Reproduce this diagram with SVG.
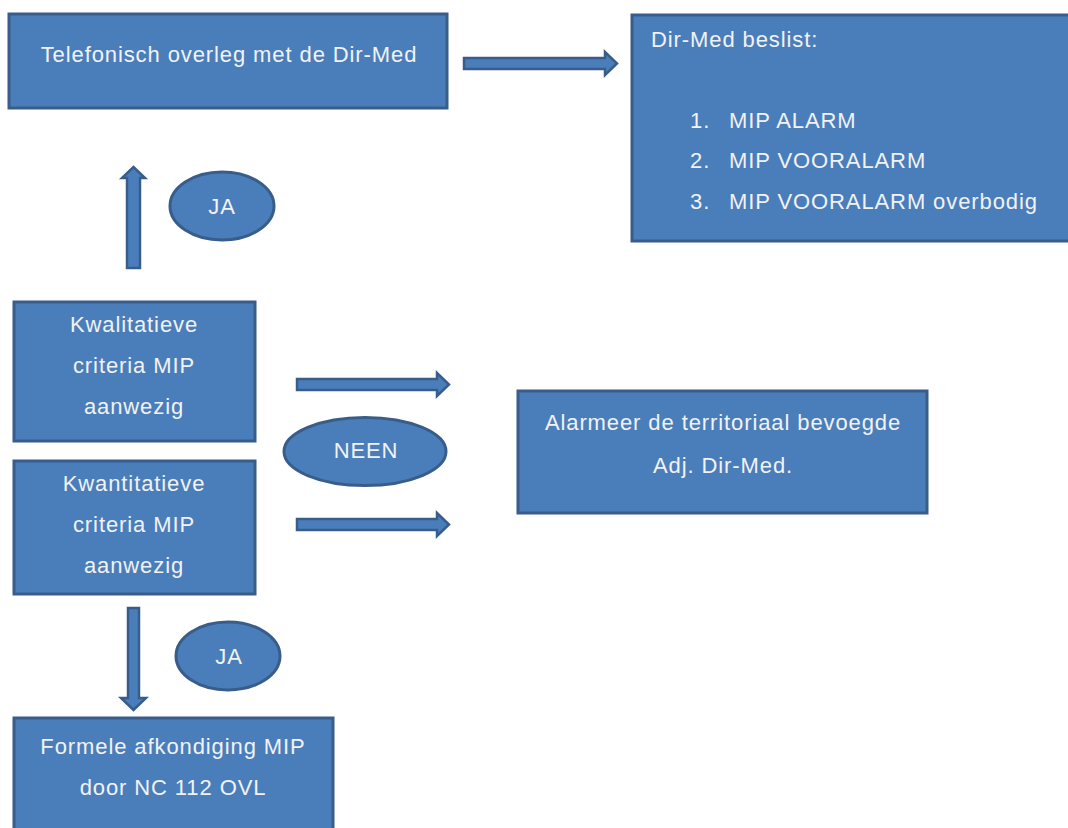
<svg xmlns="http://www.w3.org/2000/svg" width="1068" height="828" viewBox="0 0 1068 828">
<style>
.box{fill:#4a7ebb;stroke:#385d8a;stroke-width:3}
.arr{fill:#4a7ebb;stroke:#385d8a;stroke-width:2.5;stroke-linejoin:miter}
.t{font-family:"Liberation Sans",Arial,sans-serif;font-size:22px;letter-spacing:0.9px;fill:#f2f2f2}
.c{text-anchor:middle}
</style>
<rect width="1068" height="828" fill="#ffffff"/>
<g id="connectors">
<polygon class="arr" points="464,58 605,58 605,52 617,63.5 605,75 605,69 464,69"/>
<polygon class="arr" points="127,268 127,178 122,178 133.5,167 145,178 140,178 140,268"/>
<polygon class="arr" points="297,379 437,379 437,373 449,384.5 437,396 437,390 297,390"/>
<polygon class="arr" points="297,519 437,519 437,513 449,524.5 437,536 437,530 297,530"/>
<polygon class="arr" points="128,608 128,698 121,698 133.5,710 146,698 139,698 139,608"/>
</g>
<g id="telefonisch">
<rect class="box" x="9" y="14" width="438" height="94"/>
<text class="t c" x="229" y="62">Telefonisch overleg met de Dir-Med</text>
</g>
<g id="beslist">
<rect class="box" x="632" y="15" width="450" height="226"/>
<text class="t" x="651" y="47">Dir-Med beslist:</text>
<text class="t" x="690" y="128">1.</text>
<text class="t" x="729" y="128">MIP ALARM</text>
<text class="t" x="690" y="168">2.</text>
<text class="t" x="729" y="168">MIP VOORALARM</text>
<text class="t" x="690" y="209">3.</text>
<text class="t" x="729" y="209">MIP VOORALARM overbodig</text>
</g>
<g id="ja-top">
<ellipse class="box" cx="222" cy="206" rx="52" ry="34"/>
<text class="t c" x="222" y="214">JA</text>
</g>
<g id="kwalitatieve">
<rect class="box" x="14" y="302" width="241" height="139"/>
<text class="t c" x="134" y="332">Kwalitatieve</text>
<text class="t c" x="134" y="373">criteria MIP</text>
<text class="t c" x="134" y="414">aanwezig</text>
</g>
<g id="kwantitatieve">
<rect class="box" x="14" y="461" width="241" height="133"/>
<text class="t c" x="134" y="491">Kwantitatieve</text>
<text class="t c" x="134" y="532">criteria MIP</text>
<text class="t c" x="134" y="573">aanwezig</text>
</g>
<g id="neen">
<ellipse class="box" cx="365" cy="451.5" rx="81" ry="34"/>
<text class="t c" x="366" y="458">NEEN</text>
</g>
<g id="alarmeer">
<rect class="box" x="518" y="391" width="409" height="122"/>
<text class="t c" x="723" y="430">Alarmeer de territoriaal bevoegde</text>
<text class="t c" x="723" y="473">Adj. Dir-Med.</text>
</g>
<g id="ja-bottom">
<ellipse class="box" cx="228" cy="656" rx="52" ry="34"/>
<text class="t c" x="229" y="664">JA</text>
</g>
<g id="formele">
<rect class="box" x="14" y="718" width="319" height="120"/>
<text class="t c" x="173" y="754">Formele afkondiging MIP</text>
<text class="t c" x="173" y="795">door NC 112 OVL</text>
</g>
</svg>
